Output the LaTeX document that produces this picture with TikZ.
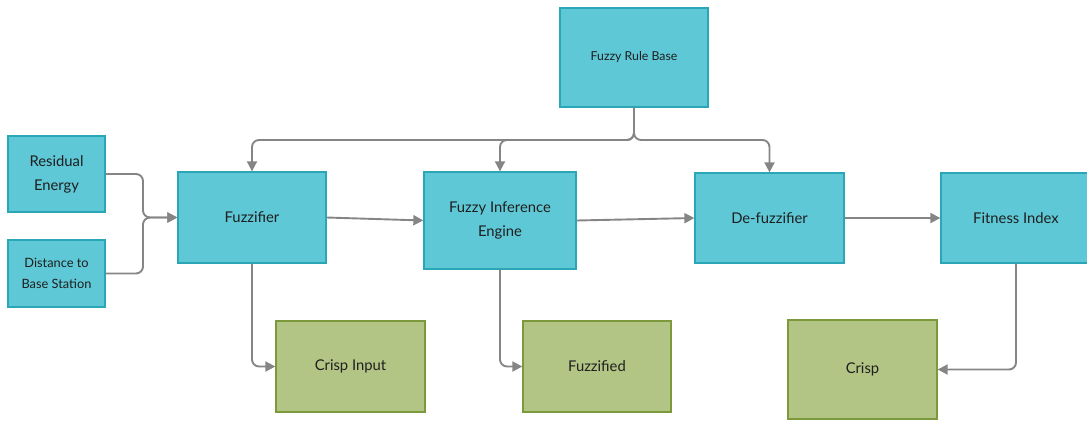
\documentclass[tikz,border=0pt]{standalone}
\usepackage{fontspec}
\setmainfont{Lato}
\usetikzlibrary{arrows.meta}
\definecolor{procfill}{HTML}{5FC8D6}
\definecolor{procline}{HTML}{2BA6B6}
\definecolor{datafill}{HTML}{B2C585}
\definecolor{dataline}{HTML}{7C9A3C}
\definecolor{flow}{HTML}{858585}
\tikzset{
  proc/.style={draw=procline, fill=procfill, line width=1.3pt, align=center,
    inner sep=0pt, text=black!88, font=\fontsize{14.8}{24}\selectfont},
  data/.style={draw=dataline, fill=datafill, line width=1.3pt, align=center,
    inner sep=0pt, text=black!88, font=\fontsize{14.8}{24}\selectfont},
  link/.style={draw=flow, line width=1.9pt, rounded corners=7pt,
    -{Triangle[length=10pt,width=10pt]}},
}
\begin{document}
\begin{tikzpicture}[x=1pt,y=-1pt]
\useasboundingbox (0,0) rectangle (1087,421);
% processing blocks
\node[proc, minimum width=97pt, minimum height=76pt] (re) at (56.5,174) {Residual\\Energy};
\node[proc, minimum width=97pt, minimum height=67pt, font=\fontsize{12.8}{21}\selectfont] (dist) at (56.5,273.5) {Distance to\\Base Station};
\node[proc, minimum width=148pt, minimum height=91pt] (fuzz) at (252,217.5) {Fuzzifier};
\node[proc, minimum width=148pt, minimum height=99pt, font=\fontsize{12.3}{16}\selectfont] (rule) at (634,57.5) {Fuzzy Rule Base};
\node[proc, minimum width=152pt, minimum height=97pt] (fie) at (500,220.5) {Fuzzy Inference\\Engine};
\node[proc, minimum width=149pt, minimum height=90pt] (defz) at (769.5,218) {De-fuzzifier};
\node[proc, minimum width=150pt, minimum height=90pt] (fit) at (1016,218) {Fitness Index};
% data blocks
\node[data, minimum width=149pt, minimum height=91pt] (cin) at (350.5,366.5) {Crisp Input};
\node[data, minimum width=148pt, minimum height=91pt] (fzd) at (597,366.5) {Fuzzified};
\node[data, minimum width=149pt, minimum height=99pt] (crisp) at (862.5,369.5) {Crisp};
% inputs merging into the fuzzifier
\draw[link] (re.east) -- (143,174) -- (143,217.5) -- (fuzz.west);
\draw[link] (dist.east) -- (143,273.5) -- (143,217.5) -- (fuzz.west);
% rule base feeding the three stages
\draw[link] (rule.south) -- (634,140) -- (252,140) -- (fuzz.north);
\draw[link] (rule.south) -- (634,140) -- (500,140) -- (fie.north);
\draw[link] (rule.south) -- (634,140) -- (769.5,140) -- (defz.north);
% main chain
\draw[link] (fuzz.east) -- (fie.west);
\draw[link] (fie.east) -- (defz.west);
\draw[link] (defz.east) -- (fit.west);
% outputs
\draw[link] (fuzz.south) -- (252,366.5) -- (cin.west);
\draw[link] (fie.south) -- (500,366.5) -- (fzd.west);
\draw[link] (fit.south) -- (1016,369.5) -- (crisp.east);
\end{tikzpicture}
\end{document}
